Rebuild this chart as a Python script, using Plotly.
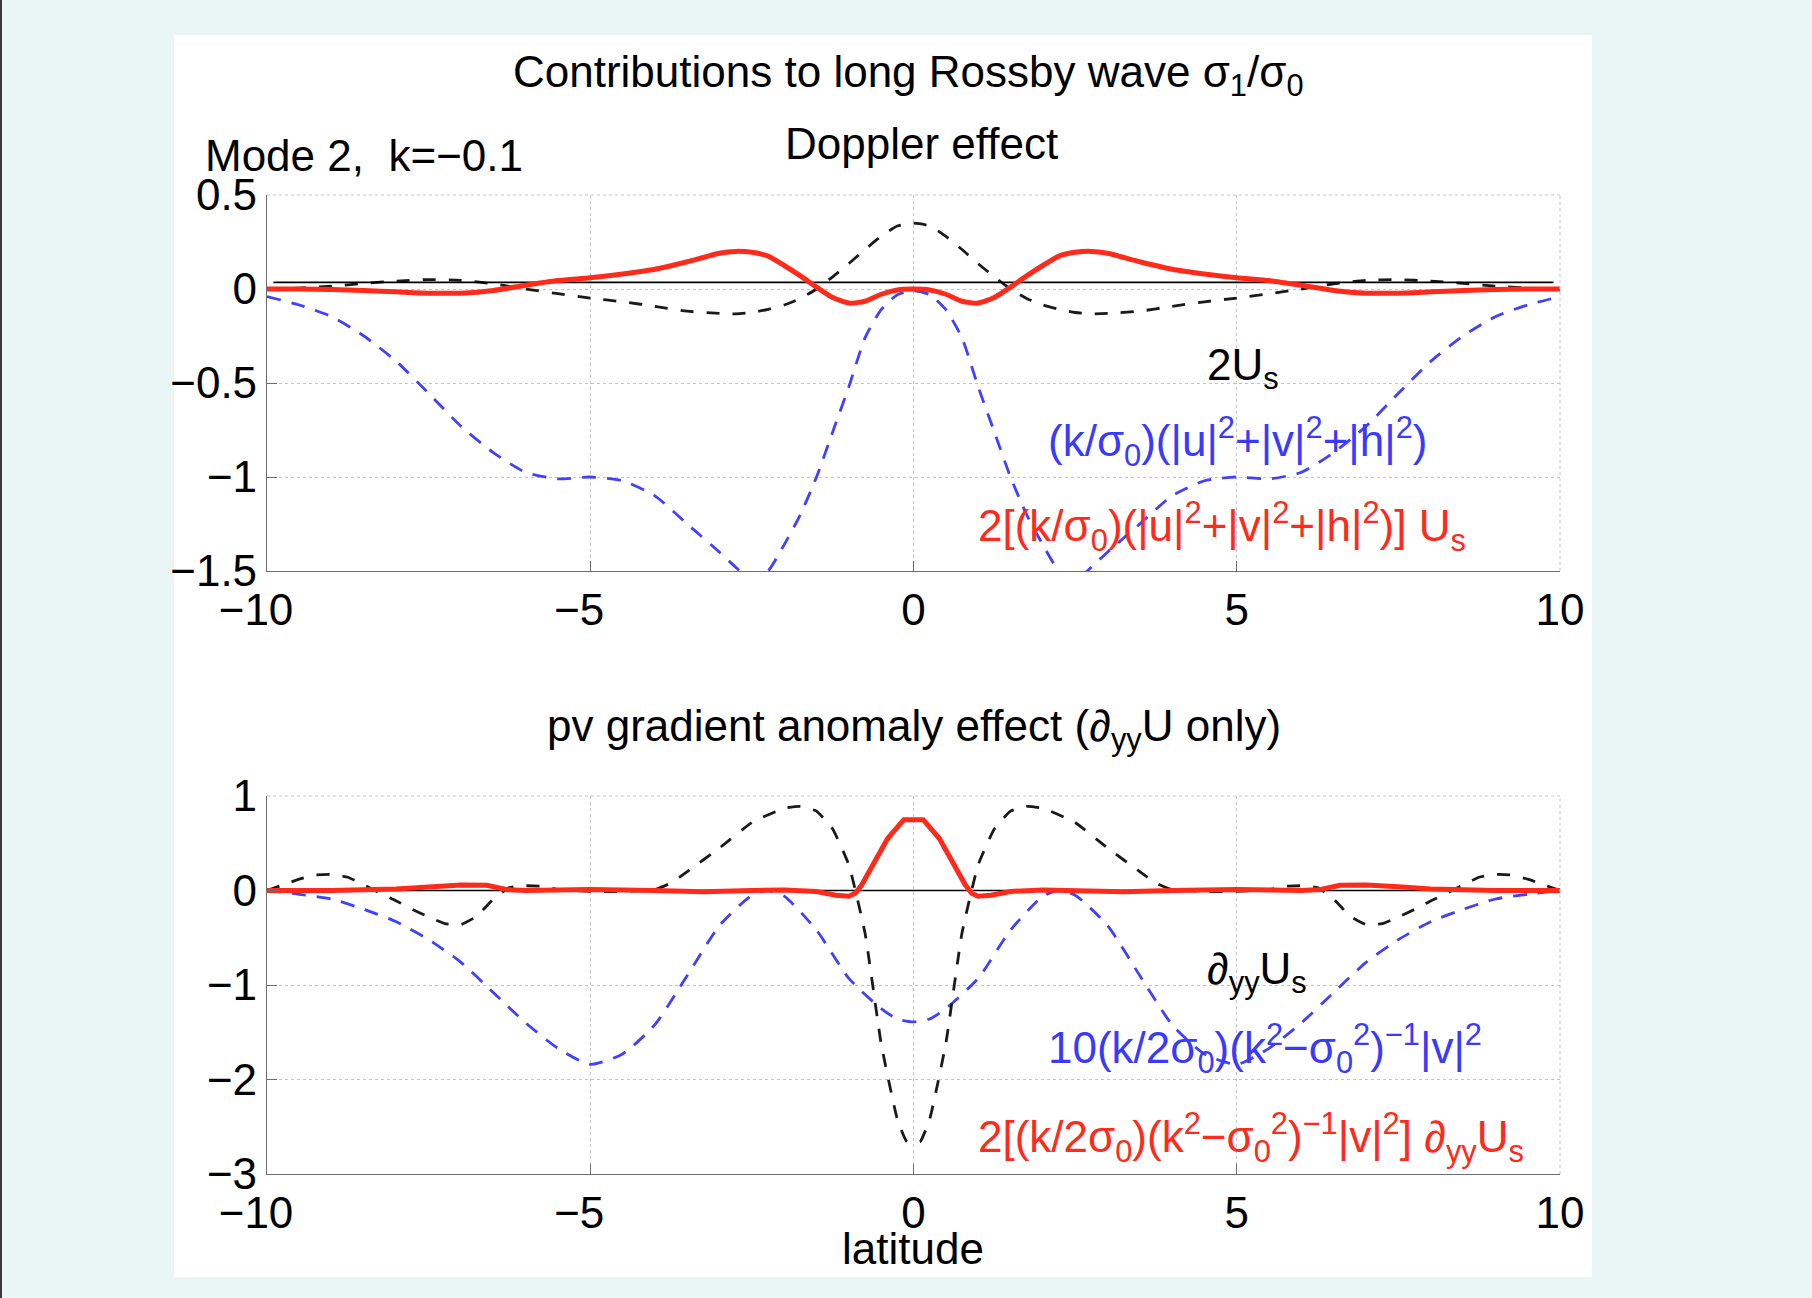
import plotly.graph_objects as go

W, H = 1812, 1298


def PX(x):
    return x / W


def PY(y):
    return 1 - y / H


# ---------------- data: top panel (Doppler effect) ----------------
lat_top = [-10, -9.5, -9, -8.5, -8, -7.5, -7, -6.5, -6, -5.5, -5, -4.5, -4, -3.5, -3, -2.75, -2.5, -2.25,
           -2, -1.75, -1.5, -1.25, -1, -0.75, -0.5, -0.25, 0, 0.25, 0.5, 0.75, 1, 1.25, 1.5, 1.75, 2,
           2.25, 2.5, 2.75, 3, 3.5, 4, 4.5, 5, 5.5, 6, 6.5, 7, 7.5, 8, 8.5, 9, 9.5, 10]

two_Us = [0.0, 0.005, 0.015, 0.03, 0.042, 0.05, 0.046, 0.028, 0.0, -0.025, -0.048, -0.068, -0.092,
          -0.118, -0.13, -0.132, -0.125, -0.108, -0.085, -0.05, 0.0, 0.065, 0.135, 0.21, 0.28, 0.335,
          0.35,
          0.335, 0.28, 0.21, 0.135, 0.065, 0.0, -0.05, -0.085, -0.108, -0.125, -0.132, -0.13, -0.118,
          -0.092, -0.068, -0.048, -0.025, 0.0, 0.028, 0.046, 0.05, 0.042, 0.03, 0.015, 0.005, 0.0]

k_sig_energy = [-0.04, -0.085, -0.147, -0.25, -0.385, -0.555, -0.73, -0.87, -0.975, -1.01, -1.0, -1.02, -1.1,
                -1.25, -1.4, -1.48, -1.55, -1.5, -1.36, -1.2, -1.0, -0.76, -0.52, -0.26, -0.11, -0.03,
                -0.01,
                -0.03, -0.11, -0.26, -0.52, -0.76, -1.0, -1.2, -1.36, -1.5, -1.55, -1.48, -1.4, -1.25,
                -1.1, -1.02, -1.0, -1.01, -0.975, -0.87, -0.73, -0.555, -0.385, -0.25, -0.147, -0.085, -0.04]

doppler_total = [0.0, 0.0, -0.003, -0.008, -0.015, -0.022, -0.022, -0.008, 0.02, 0.045, 0.06, 0.08, 0.105,
                 0.145, 0.19, 0.2, 0.195, 0.175, 0.125, 0.07, 0.01, -0.045, -0.075, -0.065, -0.028, -0.005,
                 0.0,
                 -0.005, -0.028, -0.065, -0.075, -0.045, 0.01, 0.07, 0.125, 0.175, 0.195, 0.2, 0.19, 0.145,
                 0.105, 0.08, 0.06, 0.045, 0.02, -0.008, -0.022, -0.022, -0.015, -0.008, -0.003, 0.0, 0.0]

ref_lat_top = [-9.9, 9.9]
ref_val_top = [0.035, 0.035]

# ---------------- data: bottom panel (pv gradient anomaly) ----------------
lat_dyy = [-10, -9.75, -9.5, -9.25, -9, -8.75, -8.5, -8.25, -8, -7.75, -7.5, -7.25, -7, -6.75, -6.5,
           -6.25, -6, -5.75, -5.5, -5, -4.5, -4, -3.75, -3.5, -3, -2.5, -2, -1.75, -1.5, -1.25, -1,
           -0.75, -0.5, -0.25, -0.1, 0.1, 0.25, 0.5, 0.75, 1, 1.25, 1.5, 1.75, 2, 2.5, 3, 3.5, 3.75, 4,
           4.5, 5, 5.5, 5.75, 6, 6.25, 6.5, 6.75, 7, 7.25, 7.5, 7.75, 8, 8.25, 8.5, 8.75, 9, 9.25, 9.5,
           9.75, 10]

dyy_Us = [0.0, 0.06, 0.12, 0.165, 0.17, 0.14, 0.06, -0.03, -0.11, -0.2, -0.28, -0.35, -0.36, -0.27,
          -0.09, 0.03, 0.05, 0.045, 0.01, -0.01, -0.01, 0.01, 0.08, 0.2, 0.45, 0.72, 0.87, 0.89, 0.84,
          0.65, 0.27, -0.45, -1.62, -2.42, -2.66,
          -2.66, -2.42, -1.62, -0.45, 0.27, 0.65, 0.84, 0.89, 0.87, 0.72, 0.45, 0.2, 0.08, 0.01, -0.01,
          -0.01, 0.01, 0.045, 0.05, 0.03, -0.09, -0.27, -0.36, -0.35, -0.28, -0.2, -0.11, -0.03, 0.06,
          0.14, 0.17, 0.165, 0.12, 0.06, 0.0]

lat_v = [-10, -9.5, -9, -8.5, -8, -7.5, -7, -6.5, -6, -5.5, -5, -4.5, -4, -3.5, -3, -2.5, -2.25, -2,
         -1.5, -1, -0.5, -0.25, 0, 0.25, 0.5, 1, 1.5, 2, 2.25, 2.5, 3, 3.5, 4, 4.5, 5, 5.5, 6, 6.5, 7,
         7.5, 8, 8.5, 9, 9.5, 10]

v_term = [0.0, -0.04, -0.09, -0.2, -0.33, -0.52, -0.76, -1.08, -1.4, -1.67, -1.84, -1.73, -1.42, -0.9,
          -0.37, -0.05, 0.0, -0.06, -0.42, -0.93, -1.25, -1.36, -1.39,
          -1.36, -1.25, -0.93, -0.42, -0.06, 0.0, -0.05, -0.37, -0.9, -1.42, -1.73, -1.84, -1.67,
          -1.4, -1.08, -0.76, -0.52, -0.33, -0.2, -0.09, -0.04, 0.0]

lat_pv = [-10, -9, -8, -7.5, -7, -6.6, -6.3, -6, -5, -4, -3.25, -2.5, -2, -1.5, -1.2, -1, -0.9, -0.8,
          -0.6, -0.4, -0.15, 0, 0.15, 0.4, 0.6, 0.8, 0.9, 1, 1.2, 1.5, 2, 2.5, 3.25, 4, 5, 6, 6.3, 6.6,
          7, 7.5, 8, 9, 10]

pv_total = [0.0, 0.0, 0.015, 0.04, 0.058, 0.055, 0.01, 0.0, 0.01, 0.0, -0.012, 0.0, 0.005, -0.01, -0.05,
            -0.06, -0.03, 0.06, 0.31, 0.55, 0.75, 0.75, 0.75, 0.55, 0.31, 0.06, -0.03, -0.06, -0.05,
            -0.01, 0.005, 0.0, -0.012, 0.0, 0.01, 0.0, 0.01, 0.055, 0.058, 0.04, 0.015, 0.0, 0.0]

ref_lat_bot = [-10, 10]
ref_val_bot = [0.0, 0.0]

x_ticks = [-10, -5, 0, 5, 10]
x_ticktext = ["\u221210\u2002", "\u22125\u2002", "0", "5", "10"]
y_ticks_top = [0.5, 0, -0.5, -1, -1.5]
y_ticktext_top = ["0.5", "0", "\u22120.5", "\u22121", "\u22121.5"]
y_ticks_bot = [1, 0, -1, -2, -3]
y_ticktext_bot = ["1", "0", "\u22121", "\u22122", "\u22123"]

RED = "#ff2a1a"
BLUE = "#4040ff"
BLUE_TXT = "#3a3aff"
FONT = "Liberation Sans, Arial, Helvetica, sans-serif"
FS = 44

fig = go.Figure()

# top panel traces
fig.add_trace(go.Scatter(x=lat_top, y=k_sig_energy, mode="lines", xaxis="x", yaxis="y",
                         line=dict(color=BLUE, width=2.8, dash="14px,11px", shape="spline", smoothing=0.6)))
fig.add_trace(go.Scatter(x=lat_top, y=two_Us, mode="lines", xaxis="x", yaxis="y",
                         line=dict(color="#1a1a1a", width=2.8, dash="13px,13px", shape="spline", smoothing=0.6)))
fig.add_trace(go.Scatter(x=ref_lat_top, y=ref_val_top, mode="lines", xaxis="x", yaxis="y",
                         line=dict(color="black", width=1.6)))
fig.add_trace(go.Scatter(x=lat_top, y=doppler_total, mode="lines", xaxis="x", yaxis="y",
                         line=dict(color=RED, width=5, shape="spline", smoothing=0.6)))

# bottom panel traces
fig.add_trace(go.Scatter(x=lat_v, y=v_term, mode="lines", xaxis="x2", yaxis="y2",
                         line=dict(color=BLUE, width=2.8, dash="14px,11px", shape="spline", smoothing=0.6)))
fig.add_trace(go.Scatter(x=lat_dyy, y=dyy_Us, mode="lines", xaxis="x2", yaxis="y2",
                         line=dict(color="#1a1a1a", width=2.8, dash="13px,13px", shape="spline", smoothing=0.4)))
fig.add_trace(go.Scatter(x=ref_lat_bot, y=ref_val_bot, mode="lines", xaxis="x2", yaxis="y2",
                         line=dict(color="black", width=1.6)))
fig.add_trace(go.Scatter(x=lat_pv, y=pv_total, mode="lines", xaxis="x2", yaxis="y2",
                         line=dict(color=RED, width=5)))

xdom = [PX(267), PX(1560)]
ydom_top = [PY(571), PY(195)]
ydom_bot = [PY(1174), PY(796)]

axis_common = dict(
    showline=True, linecolor="#6e6e6e", linewidth=1.2, mirror=False,
    ticks="inside", ticklen=10, tickwidth=1.2, tickcolor="#6e6e6e",
    showgrid=True, gridcolor="#c4c4c4", gridwidth=1, griddash="dot",
    zeroline=False, tickfont=dict(family=FONT, size=FS, color="black"),
    fixedrange=True, automargin=False,
)

fig.update_layout(
    width=W, height=H, autosize=False,
    margin=dict(l=0, r=0, t=0, b=0, pad=0, autoexpand=False),
    paper_bgcolor="#eaf6f6", plot_bgcolor="white",
    showlegend=False, hovermode=False,
    font=dict(family=FONT, size=FS, color="black"),
    xaxis=dict(domain=xdom, anchor="y", range=[-10, 10], tickvals=x_ticks, ticktext=x_ticktext, **axis_common),
    yaxis=dict(domain=ydom_top, anchor="x", range=[-1.5, 0.5], tickvals=y_ticks_top,
               ticktext=y_ticktext_top, **axis_common),
    xaxis2=dict(domain=xdom, anchor="y2", range=[-10, 10], tickvals=x_ticks, ticktext=x_ticktext, **axis_common),
    yaxis2=dict(domain=ydom_bot, anchor="x2", range=[-3, 1], tickvals=y_ticks_bot,
                ticktext=y_ticktext_bot, **axis_common),
)

shapes = [
    dict(type="rect", xref="paper", yref="paper", x0=PX(174), x1=PX(1592), y0=PY(1277), y1=PY(35),
         fillcolor="white", line=dict(width=0), layer="below"),
    dict(type="line", xref="paper", yref="paper", x0=PX(1), x1=PX(1), y0=0, y1=1,
         line=dict(color="#3a3a3a", width=2)),
]
# dotted grid at the open top/right edges (box off)
for (y_dom) in (ydom_top, ydom_bot):
    shapes.append(dict(type="line", xref="paper", yref="paper", x0=xdom[0], x1=xdom[1], y0=y_dom[1], y1=y_dom[1],
                       line=dict(color="#c4c4c4", width=1, dash="dot")))
    shapes.append(dict(type="line", xref="paper", yref="paper", x0=xdom[1], x1=xdom[1], y0=y_dom[0], y1=y_dom[1],
                       line=dict(color="#c4c4c4", width=1, dash="dot")))
fig.update_layout(shapes=shapes)


def ann(text, x, y, color="black", xanchor="center"):
    return dict(text=text, x=PX(x), y=PY(y), xref="paper", yref="paper", showarrow=False,
                xanchor=xanchor, yanchor="middle", font=dict(family=FONT, size=FS, color=color))


annotations = [
    ann("Contributions to long Rossby wave \u03c3<sub>1</sub>/\u03c3<sub>0</sub>", 908, 75),
    ann("Doppler effect", 921, 143),
    ann("Mode 2,\u00a0 k=\u22120.1", 203, 156, xanchor="left"),
    ann("pv gradient anomaly effect (\u2202<sub>yy</sub>U only)", 914, 729),
    ann("latitude", 913, 1248),
    ann("2U<sub>s</sub>", 1205, 368, xanchor="left"),
    ann("(k/\u03c3<sub>0</sub>)(|u|<sup>2</sup>+|v|<sup>2</sup>+|h|<sup>2</sup>)", 1046, 441,
        color=BLUE_TXT, xanchor="left"),
    ann("2[(k/\u03c3<sub>0</sub>)(|u|<sup>2</sup>+|v|<sup>2</sup>+|h|<sup>2</sup>)] U<sub>s</sub>", 976, 526,
        color=RED, xanchor="left"),
    ann("\u2202<sub>yy</sub>U<sub>s</sub>", 1205, 972, xanchor="left"),
    ann("10(k/2\u03c3<sub>0</sub>)(k<sup>2</sup>\u2212\u03c3<sub>0</sub><sup>2</sup>)<sup>\u22121</sup>|v|<sup>2</sup>",
        1046, 1048, color=BLUE_TXT, xanchor="left"),
    ann("2[(k/2\u03c3<sub>0</sub>)(k<sup>2</sup>\u2212\u03c3<sub>0</sub><sup>2</sup>)<sup>\u22121</sup>|v|<sup>2</sup>] "
        "\u2202<sub>yy</sub>U<sub>s</sub>", 976, 1137, color=RED, xanchor="left"),
]
fig.update_layout(annotations=annotations)

fig.write_html("out.html")
